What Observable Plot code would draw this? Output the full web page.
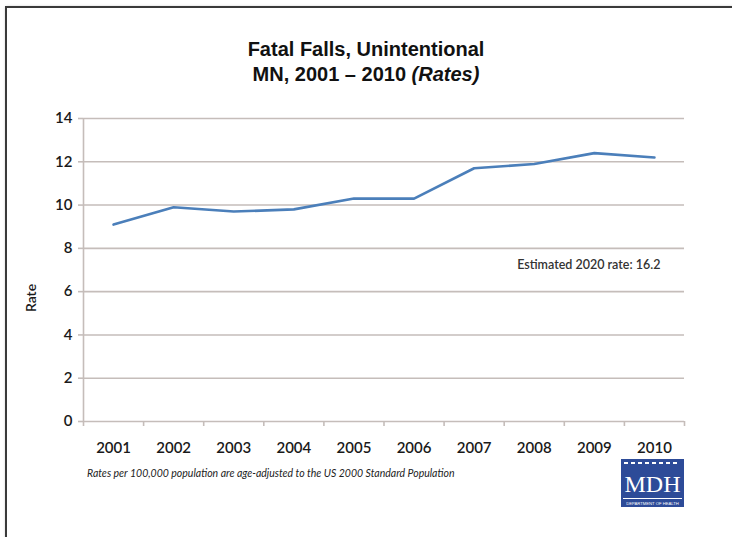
<!DOCTYPE html>
<html>
<head>
<meta charset="utf-8">
<script src="https://cdn.jsdelivr.net/npm/d3@7"></script>
<script src="https://cdn.jsdelivr.net/npm/@observablehq/plot@0.6"></script>
<style>
  html, body { margin: 0; padding: 0; background: #fff; }
  body { width: 732px; height: 537px; overflow: hidden; position: relative; font-family: Lato, "Liberation Sans", sans-serif; }
  #frame { position: absolute; left: 5px; top: 6px; width: 900px; height: 700px; border: 2px solid #3a3a3a; box-shadow: 1px 1px 3px rgba(0,0,0,0.35); box-sizing: border-box; }
  #title { position: absolute; left: 0; top: 37px; width: 732px; text-align: center; font-family: "Liberation Sans", Arial, sans-serif; font-weight: bold; font-size: 20px; line-height: 25px; color: #111; }
  #chart { position: absolute; left: 0; top: 86px; }
  #ylabel { position: absolute; left: 30px; top: 298px; transform: translate(-50%, -50%) rotate(-90deg); font-family: Lato, sans-serif; font-weight: 600; font-size: 14px; color: #1a1a1a; white-space: nowrap; }
  #note { position: absolute; left: 87px; top: 467px; font-family: Lato, sans-serif; font-style: italic; font-size: 10.5px; color: #222; }
  #logo { position: absolute; left: 621px; top: 459px; }
</style>
</head>
<body>
<div id="frame"></div>
<div id="title"></div>
<div id="chart"></div>
<div id="ylabel"></div>
<div id="note"></div>
<div id="logo">
  <svg width="63" height="48" viewBox="0 0 63 48">
    <rect x="0" y="0" width="63" height="48" fill="#2d4b98"/>
    <g fill="#fff">
      <rect x="3" y="3" width="4" height="2"/><rect x="10" y="3" width="4" height="2"/><rect x="17" y="3" width="4" height="2"/><rect x="24" y="3" width="4" height="2"/><rect x="31" y="3" width="4" height="2"/><rect x="38" y="3" width="4" height="2"/><rect x="45" y="3" width="4" height="2"/><rect x="52" y="3" width="4" height="2"/>
      <rect x="2" y="39" width="59" height="1"/>
    </g>
    <text x="31.5" y="33" text-anchor="middle" fill="#fff" font-family="Liberation Serif, serif" font-size="24">MDH</text>
    <text x="31.5" y="45.5" text-anchor="middle" fill="#fff" font-family="Liberation Sans, sans-serif" font-size="4.2">DEPARTMENT OF HEALTH</text>
  </svg>
</div>
<script>
const titleLines = ["Fatal Falls, Unintentional", "MN, 2001 \u2013 2010 <i>(Rates)</i>"];
const years = [2001, 2002, 2003, 2004, 2005, 2006, 2007, 2008, 2009, 2010];
const rates = [9.1, 9.9, 9.7, 9.8, 10.3, 10.3, 11.7, 11.9, 12.4, 12.2];
const yTicks = [0, 2, 4, 6, 8, 10, 12, 14];
const yLabel = "Rate";
const annotation = "Estimated 2020 rate: 16.2";
const footnote = "Rates per 100,000 population are age-adjusted to the US 2000 Standard Population";

document.getElementById("title").innerHTML = titleLines.join("<br>");
document.getElementById("note").textContent = footnote;
document.getElementById("ylabel").textContent = yLabel;

const data = years.map((year, i) => ({year, rate: rates[i]}));
const boundaries = [years[0] - 0.5, ...years.map(y => y + 0.5)];
const gridColor = "#c5bdba";
const textColor = "#1a1a1a";

const chart = Plot.plot({
  width: 732,
  height: 374,
  marginTop: 32,
  marginBottom: 39,
  marginLeft: 83,
  marginRight: 48,
  style: {fontFamily: "Lato, sans-serif", fontSize: "15px", color: textColor, background: "transparent"},
  x: {type: "linear", domain: [boundaries[0], boundaries[boundaries.length - 1]]},
  y: {domain: [0, 14]},
  marks: [
    Plot.gridY(yTicks.filter(d => d > 0), {stroke: gridColor, strokeOpacity: 1, strokeWidth: 1.6}),
    Plot.ruleX([boundaries[0]], {stroke: gridColor, strokeWidth: 1.6}),
    Plot.ruleY([0], {stroke: gridColor, strokeWidth: 1.6}),
    Plot.axisY({ticks: yTicks, tickSize: 5, tickPadding: 6, stroke: gridColor, strokeWidth: 1.6, label: null, fontSize: 15, fontWeight: 600}),
    Plot.axisX({ticks: boundaries, tickSize: 5, tickFormat: () => "", stroke: gridColor, strokeWidth: 1.6, label: null}),
    Plot.axisX({ticks: years, tickSize: 0, tickPadding: 21, tickFormat: d => String(d), label: null, fontSize: 15, fontWeight: 600}),
    Plot.line(data, {x: "year", y: "rate", stroke: "#4b7fba", strokeWidth: 2.6}),
    Plot.text([annotation], {x: years[years.length - 1] + 0.1, y: 7.25, text: d => d, textAnchor: "end", fontSize: 12.5, fill: "#333", fontWeight: 600})
  ]
});
document.getElementById("chart").appendChild(chart);
</script>
</body>
</html>
